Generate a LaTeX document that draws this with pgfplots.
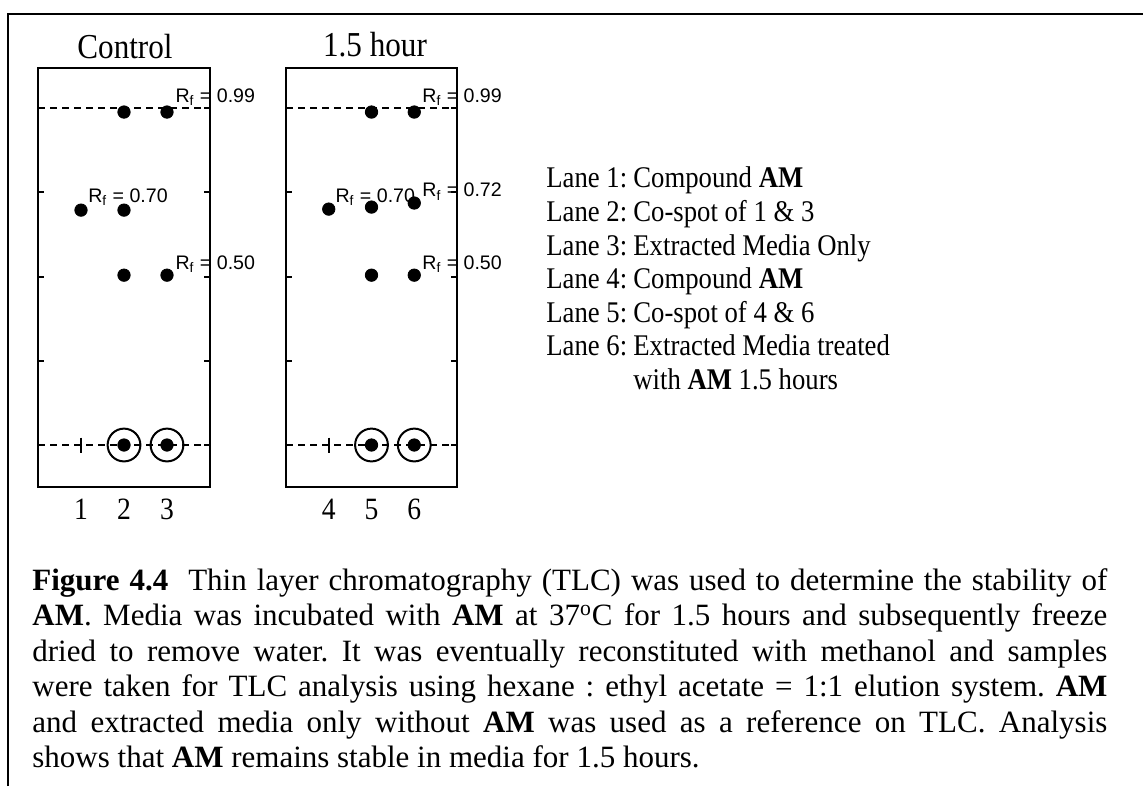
\documentclass[border=0pt]{standalone}
\usepackage{fontspec}
\setmainfont{Liberation Serif}
\newfontfamily\figfont{Liberation Serif}[FakeStretch=0.89]
\newfontfamily\rf{Liberation Sans}
\usepackage{pgfplots}
\pgfplotsset{compat=1.18}
\frenchspacing
\pgfplotsset{plate/.style={
  scale only axis, height=209.5pt,
  xmin=0, xmax=4, ymin=-0.1246, ymax=1.1187,
  axis line style={line width=1pt},
  ytick={0,0.25,0.5,0.75,1}, yticklabels={}, ytick pos=both, tick align=inside,
  major tick length=3pt, ytick style={black, line width=1pt},
  xtick={1,2,3}, xtick style={draw=none},
  xticklabel style={font=\figfont\fontsize{15.5}{18}\selectfont, yshift=-2.5pt},
  clip=false,
}}
\tikzset{tlcdash/.style={black, line width=0.85pt, dash pattern=on 3.5pt off 2.5pt},
  rflab/.style={anchor=base west, inner sep=0pt, font=\rf\fontsize{9.8}{11}\selectfont}}
\begin{document}
\begin{tikzpicture}[x=0.5pt,y=-0.5pt]
\useasboundingbox (0,0) rectangle (1143,786);
\draw[line width=1.1pt] (8,786) -- (8,14) -- (1143,14);

% Plate 1: Control
\begin{axis}[plate, width=86pt, at={(19pt,-243.5pt)}, anchor=south west, xticklabels={1,2,3}]
\addplot[tlcdash] coordinates {(0,1) (4,1)};
\addplot[tlcdash] coordinates {(0,0) (4,0)};
\addplot[only marks, mark=o, mark size=8.2pt, mark options={black, line width=1pt, fill=white}] coordinates {(2,0) (3,0)};
\addplot[only marks, mark=*, mark size=3.1pt, black] coordinates {
(2,0.988) (3,0.988) (1,0.697) (2,0.697) (2,0.504) (3,0.504) (2,0) (3,0)};
\addplot[only marks, mark=|, mark size=3.75pt, mark options={black, line width=1.2pt}] coordinates {(1,0)};
\node[rflab] at (axis cs:3.19,1.015) {R\textsubscript{f} = 0.99};
\node[rflab] at (axis cs:1.16,0.721) {R\textsubscript{f} = 0.70};
\node[rflab] at (axis cs:3.19,0.522) {R\textsubscript{f} = 0.50};
\end{axis}

% Plate 2: 1.5 hour
\begin{axis}[plate, width=85.5pt, at={(143pt,-243.5pt)}, anchor=south west, xticklabels={4,5,6}]
\addplot[tlcdash] coordinates {(0,1) (4,1)};
\addplot[tlcdash] coordinates {(0,0) (4,0)};
\addplot[only marks, mark=o, mark size=8.2pt, mark options={black, line width=1pt, fill=white}] coordinates {(2,0) (3,0)};
\addplot[only marks, mark=*, mark size=3.1pt, black] coordinates {
(2,0.988) (3,0.988) (1,0.700) (2,0.706) (3,0.718) (2,0.504) (3,0.504) (2,0) (3,0)};
\addplot[only marks, mark=|, mark size=3.75pt, mark options={black, line width=1.2pt}] coordinates {(1,0)};
\node[rflab] at (axis cs:3.18,1.015) {R\textsubscript{f} = 0.99};
\node[rflab] at (axis cs:1.15,0.721) {R\textsubscript{f} = 0.70};
\node[rflab] at (axis cs:3.18,0.736) {R\textsubscript{f} = 0.72};
\node[rflab] at (axis cs:3.18,0.522) {R\textsubscript{f} = 0.50};
\end{axis}

% Titles
\node[anchor=base, inner sep=0pt, font=\figfont\fontsize{17.5}{20}\selectfont] at (125,59) {Control};
\node[anchor=base, inner sep=0pt, font=\figfont\fontsize{17.5}{20}\selectfont] at (375,57) {1.5 hour};

% Legend
\begin{scope}[every node/.style={anchor=base west, inner sep=0pt, font=\figfont\fontsize{15}{18}\selectfont}]
\node at (546,188) {Lane 1:}; \node at (633,188) {Compound \textbf{AM}};
\node at (546,221.5) {Lane 2:}; \node at (633,221.5) {Co-spot of 1 \& 3};
\node at (546,255) {Lane 3:}; \node at (633,255) {Extracted Media Only};
\node at (546,288.5) {Lane 4:}; \node at (633,288.5) {Compound \textbf{AM}};
\node at (546,322) {Lane 5:}; \node at (633,322) {Co-spot of 4 \& 6};
\node at (546,355.5) {Lane 6:}; \node at (633,355.5) {Extracted Media treated};
\node at (633,389) {with \textbf{AM} 1.5 hours};
\end{scope}

% Caption
\begin{scope}[every node/.style={anchor=base west, inner sep=0pt, font=\fontsize{15.5}{18}\selectfont}]
\node at (32,590) {\makebox[537.5pt][s]{\textbf{Figure 4.4}\ \ Thin layer chromatography (TLC) was used to determine the stability of}};
\node at (32,625.5) {\makebox[537.5pt][s]{\textbf{AM}. Media was incubated with \textbf{AM} at 37\textsuperscript{o}C for 1.5 hours and subsequently freeze}};
\node at (32,661) {\makebox[537.5pt][s]{dried to remove water. It was eventually reconstituted with methanol and samples}};
\node at (32,696.5) {\makebox[537.5pt][s]{were taken for TLC analysis using hexane : ethyl acetate = 1:1 elution system. \textbf{AM}}};
\node at (32,732) {\makebox[537.5pt][s]{and extracted media only without \textbf{AM} was used as a reference on TLC. Analysis}};
\node at (32,767.5) {shows that \textbf{AM} remains stable in media for 1.5 hours.};
\end{scope}
\end{tikzpicture}
\end{document}
